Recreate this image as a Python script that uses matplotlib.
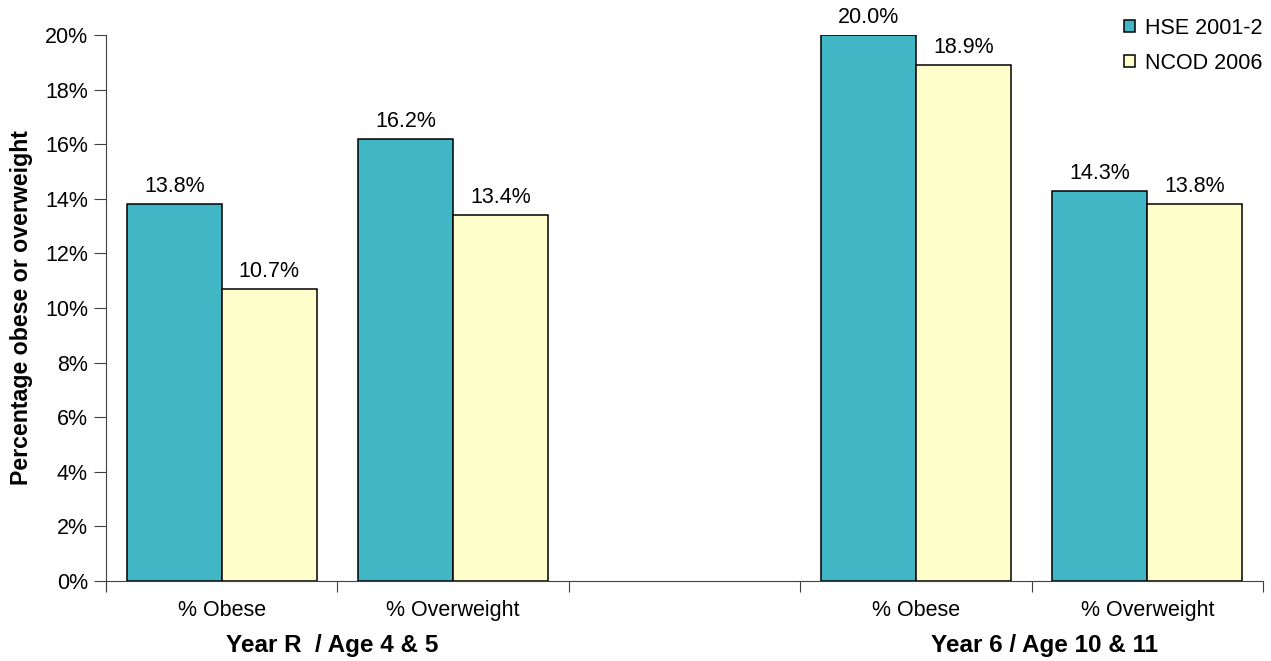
import numpy as np
import matplotlib.pyplot as plt

plt.rcParams['font.family'] = ['Liberation Sans', 'DejaVu Sans']

# datos (porcentajes)
categorias = ['% Obese', '% Overweight', '', '% Obese', '% Overweight']
hse = [13.8, 16.2, np.nan, 20.0, 14.3]
ncod = [10.7, 13.4, np.nan, 18.9, 13.8]
series = ['HSE 2001-2', 'NCOD 2006']
grupos = ['Year R  / Age 4 & 5', 'Year 6 / Age 10 & 11']
grupos_pos = [0.976, 4.056]

color_hse = '#41B6C4'
color_ncod = '#FFFFCC'
fs = 15.5

fig = plt.figure(figsize=(12.71, 6.61), dpi=100)
ax = fig.add_axes([0.0834, 0.121, 0.9103, 0.826])

x = np.arange(len(categorias)) + 0.5
ancho = 0.41

b1 = ax.bar(x - ancho / 2, hse, ancho, color=color_hse, edgecolor='black',
            linewidth=1.1, label=series[0])
b2 = ax.bar(x + ancho / 2, ncod, ancho, color=color_ncod, edgecolor='black',
            linewidth=1.1, label=series[1])

# etiquetas de valor sobre las barras
for barras, vals in ((b1, hse), (b2, ncod)):
    for rect, v in zip(barras, vals):
        if np.isnan(v):
            continue
        ax.annotate(f'{v:.1f}%', (rect.get_x() + rect.get_width() / 2, v),
                    xytext=(0, 5), textcoords='offset points',
                    ha='center', va='bottom', fontsize=fs)

ax.set_xlim(0, len(categorias))
ax.set_ylim(0, 20)
ax.set_yticks(np.arange(0, 21, 2))
ax.set_yticklabels([f'{v}%' for v in range(0, 21, 2)], fontsize=fs)

# ticks mayores en los limites de categoria, etiquetas en los centros
ax.set_xticks(np.arange(len(categorias) + 1))
ax.set_xticklabels([])
ax.set_xticks(x, minor=True)
ax.set_xticklabels(categorias, minor=True, fontsize=fs)
ax.tick_params(axis='x', which='minor', length=0, pad=14)
ax.tick_params(axis='x', which='major', length=8, direction='out', color='#404040')
ax.tick_params(axis='y', length=9, direction='out', color='#404040', pad=4)

for lado in ('top', 'right'):
    ax.spines[lado].set_visible(False)
ax.spines['left'].set_color('#404040')
ax.spines['bottom'].set_color('#404040')
ax.spines['left'].set_bounds(-0.35, 20)
ax.spines['left'].set_zorder(0.5)

for g, pos in zip(grupos, grupos_pos):
    ax.text(pos, -0.118, g, transform=ax.get_xaxis_transform(),
            ha='center', va='center', fontsize=17.5, fontweight='bold')

ax.set_ylabel('Percentage obese or overweight', fontsize=16.7,
              fontweight='bold')
ax.yaxis.set_label_coords(-0.063, 0.5)

leg = ax.legend(loc='upper left', bbox_to_anchor=(0.8843, 0.973),
                bbox_transform=fig.transFigure, frameon=False,
                fontsize=fs, handlelength=0.5, handleheight=0.5,
                handletextpad=0.5, labelspacing=0.65, borderpad=0,
                borderaxespad=0)

fig.savefig('out.png', dpi=100)
